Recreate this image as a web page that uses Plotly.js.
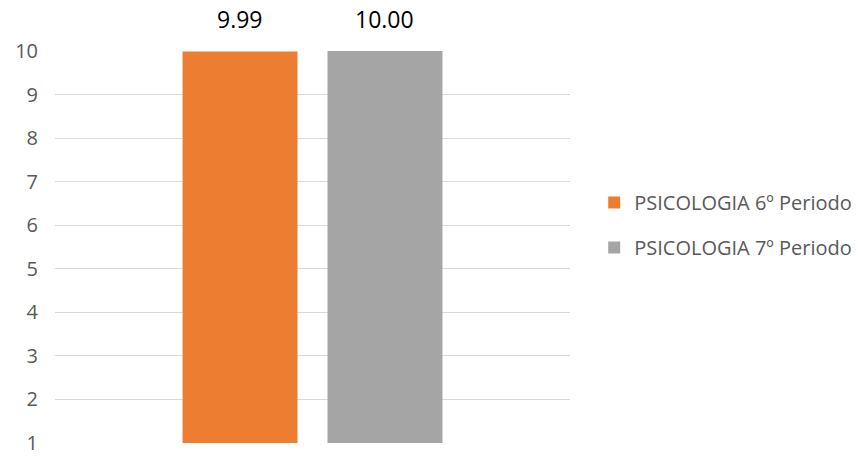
<!DOCTYPE html>
<html>
<head>
<meta charset="utf-8">
<script src="https://cdn.plot.ly/plotly-3.0.1.min.js"></script>
<style>html,body{margin:0;padding:0;background:#fff;}#chart{width:861px;height:457px;}</style>
</head>
<body>
<div id="chart"></div>
<script>
var categories = ['Média'];
var seriesNames = ['PSICOLOGIA 6º Periodo', 'PSICOLOGIA 7º Periodo'];
var seriesValues = [[9.99], [10.00]];
var seriesColors = ['#ED7D31', '#A5A5A5'];
var yTicks = [1, 2, 3, 4, 5, 6, 7, 8, 9, 10];

var FONT = 'Open Sans, Liberation Sans, sans-serif';
var W = 861, H = 457, ML = 55, MR = 291;
var BARGAP = 0.437, BARGROUPGAP = 0.207;
var plotW = W - ML - MR;
var slotPx = plotW * (1 - BARGAP) / seriesNames.length;

var traces = seriesNames.map(function (name, i) {
  return {
    type: 'bar',
    name: name,
    x: categories,
    y: seriesValues[i],
    marker: {color: seriesColors[i]},
    legendgroup: 'g' + i,
    hoverinfo: 'none'
  };
});

var annotations = [];
seriesNames.forEach(function (name, i) {
  categories.forEach(function (c, j) {
    annotations.push({
      x: c, y: seriesValues[i][j], xref: 'x', yref: 'y',
      text: seriesValues[i][j].toFixed(2),
      showarrow: false, yanchor: 'bottom', xanchor: 'center',
      xshift: (i - (seriesNames.length - 1) / 2) * slotPx,
      yshift: 14,
      font: {family: FONT, size: 23, color: '#000000'}
    });
  });
});

var layout = {
  width: W, height: H,
  margin: {l: ML, r: MR, t: 51, b: 14, autoexpand: false},
  paper_bgcolor: '#ffffff', plot_bgcolor: '#ffffff',
  font: {family: FONT, color: '#595959'},
  barmode: 'group',
  bargap: BARGAP,
  bargroupgap: BARGROUPGAP,
  showlegend: true,
  annotations: annotations,
  legend: {x: 1.047, xanchor: 'left', y: 0.556, yanchor: 'middle',
           font: {family: FONT, size: 20, color: '#595959'},
           tracegroupgap: 16, itemwidth: 30},
  xaxis: {showticklabels: false, showgrid: false, zeroline: false, showline: false, ticks: ''},
  yaxis: {range: [1, 10], tickvals: yTicks, ticktext: yTicks.map(String),
          showgrid: true, gridcolor: '#D9D9D9', gridwidth: 1, zeroline: false,
          showline: false, ticks: '', ticklabelstandoff: 16,
          tickfont: {family: FONT, size: 20, color: '#595959'}}
};

Plotly.newPlot('chart', traces, layout, {displayModeBar: false, staticPlot: true});
</script>
</body>
</html>
